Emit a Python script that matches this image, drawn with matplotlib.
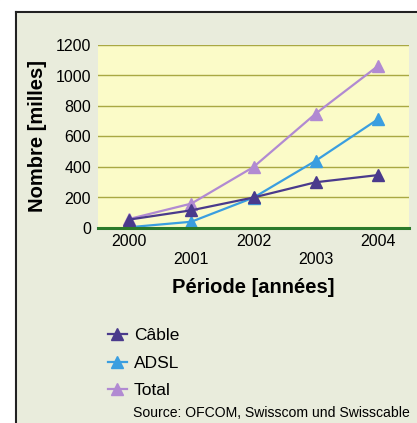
import matplotlib.pyplot as plt
from matplotlib.lines import Line2D

plt.rcParams['font.family'] = ['Liberation Sans', 'DejaVu Sans']

# Data (thousands)
years = ['2000', '2001', '2002', '2003', '2004']
cable = [55, 116, 200, 300, 347]
adsl = [5, 41, 199, 441, 713]
total = [59, 160, 400, 750, 1062]

y_ticks = [0, 200, 400, 600, 800, 1000, 1200]

C_CABLE = '#4a3a8c'
C_ADSL = '#3a9ee0'
C_TOTAL = '#b18ad2'

W, H = 417, 423
fig = plt.figure(figsize=(W / 100, H / 100), dpi=100, facecolor='#e9ecdc')
ax = fig.add_axes([98 / W, 1 - 228 / H, (409 - 98) / W, (228 - 45) / H])
ax.set_facecolor('#fbfbc8')

x = list(range(len(years)))
ax.plot(x, cable, color=C_CABLE, marker='^', ms=8, lw=1.6, label='Câble', zorder=4)
ax.plot(x, adsl, color=C_ADSL, marker='^', ms=8, lw=1.6, label='ADSL', zorder=3)
ax.plot(x, total, color=C_TOTAL, marker='^', ms=8, lw=1.6, label='Total', zorder=2)

ax.set_xlim(-0.5, len(years) - 0.5)
ax.set_ylim(0, 1200)
ax.set_yticks(y_ticks)
ax.set_yticklabels([str(v) for v in y_ticks], fontsize=11.5)
ax.set_xticks(x)
ax.set_xticklabels([y if i % 2 == 0 else '\n' + y for i, y in enumerate(years)],
                   fontsize=11.5, linespacing=1.3)
ax.tick_params(axis='both', length=0)
ax.tick_params(axis='x', pad=4)
ax.tick_params(axis='y', pad=5)

for v in y_ticks[1:]:
    ax.axhline(v, color='#a9a843', lw=1.0, zorder=1)
for s in ['top', 'right', 'left']:
    ax.spines[s].set_visible(False)
ax.spines['bottom'].set_color('#2b7a2b')
ax.spines['bottom'].set_linewidth(2.2)
ax.spines['bottom'].set_zorder(5)

ax.set_ylabel('Nombre [milles]', fontsize=14.5, fontweight='bold', labelpad=6)
ax.set_xlabel('Période [années]', fontsize=14.5, fontweight='bold', labelpad=8)

# legend below the plot
ax.legend(loc='upper left', bbox_to_anchor=(101 / W, 1 - 321 / H),
          bbox_transform=fig.transFigure, frameon=False, fontsize=12.5,
          handlelength=1.1, handletextpad=0.4, labelspacing=0.72, borderaxespad=0)

fig.text(133 / W, 1 - 413 / H, 'Source: OFCOM, Swisscom und Swisscable',
         fontsize=10.1, va='center', ha='left')

# outer frame (left and top border)
fig.add_artist(Line2D([16 / W, 16 / W], [0, 1 - 12 / H], color='#222222', lw=1.5,
                      transform=fig.transFigure))
fig.add_artist(Line2D([16 / W, 1], [1 - 12 / H, 1 - 12 / H], color='#222222', lw=1.5,
                      transform=fig.transFigure))
fig.patches.append(plt.Rectangle((0, 1 - 12 / H), 1, 12 / H, color='white',
                                 transform=fig.transFigure, zorder=-1))
fig.patches.append(plt.Rectangle((0, 0), 16 / W, 1, color='white',
                                 transform=fig.transFigure, zorder=-1))

fig.savefig('out.png', dpi=100, facecolor=fig.get_facecolor())
